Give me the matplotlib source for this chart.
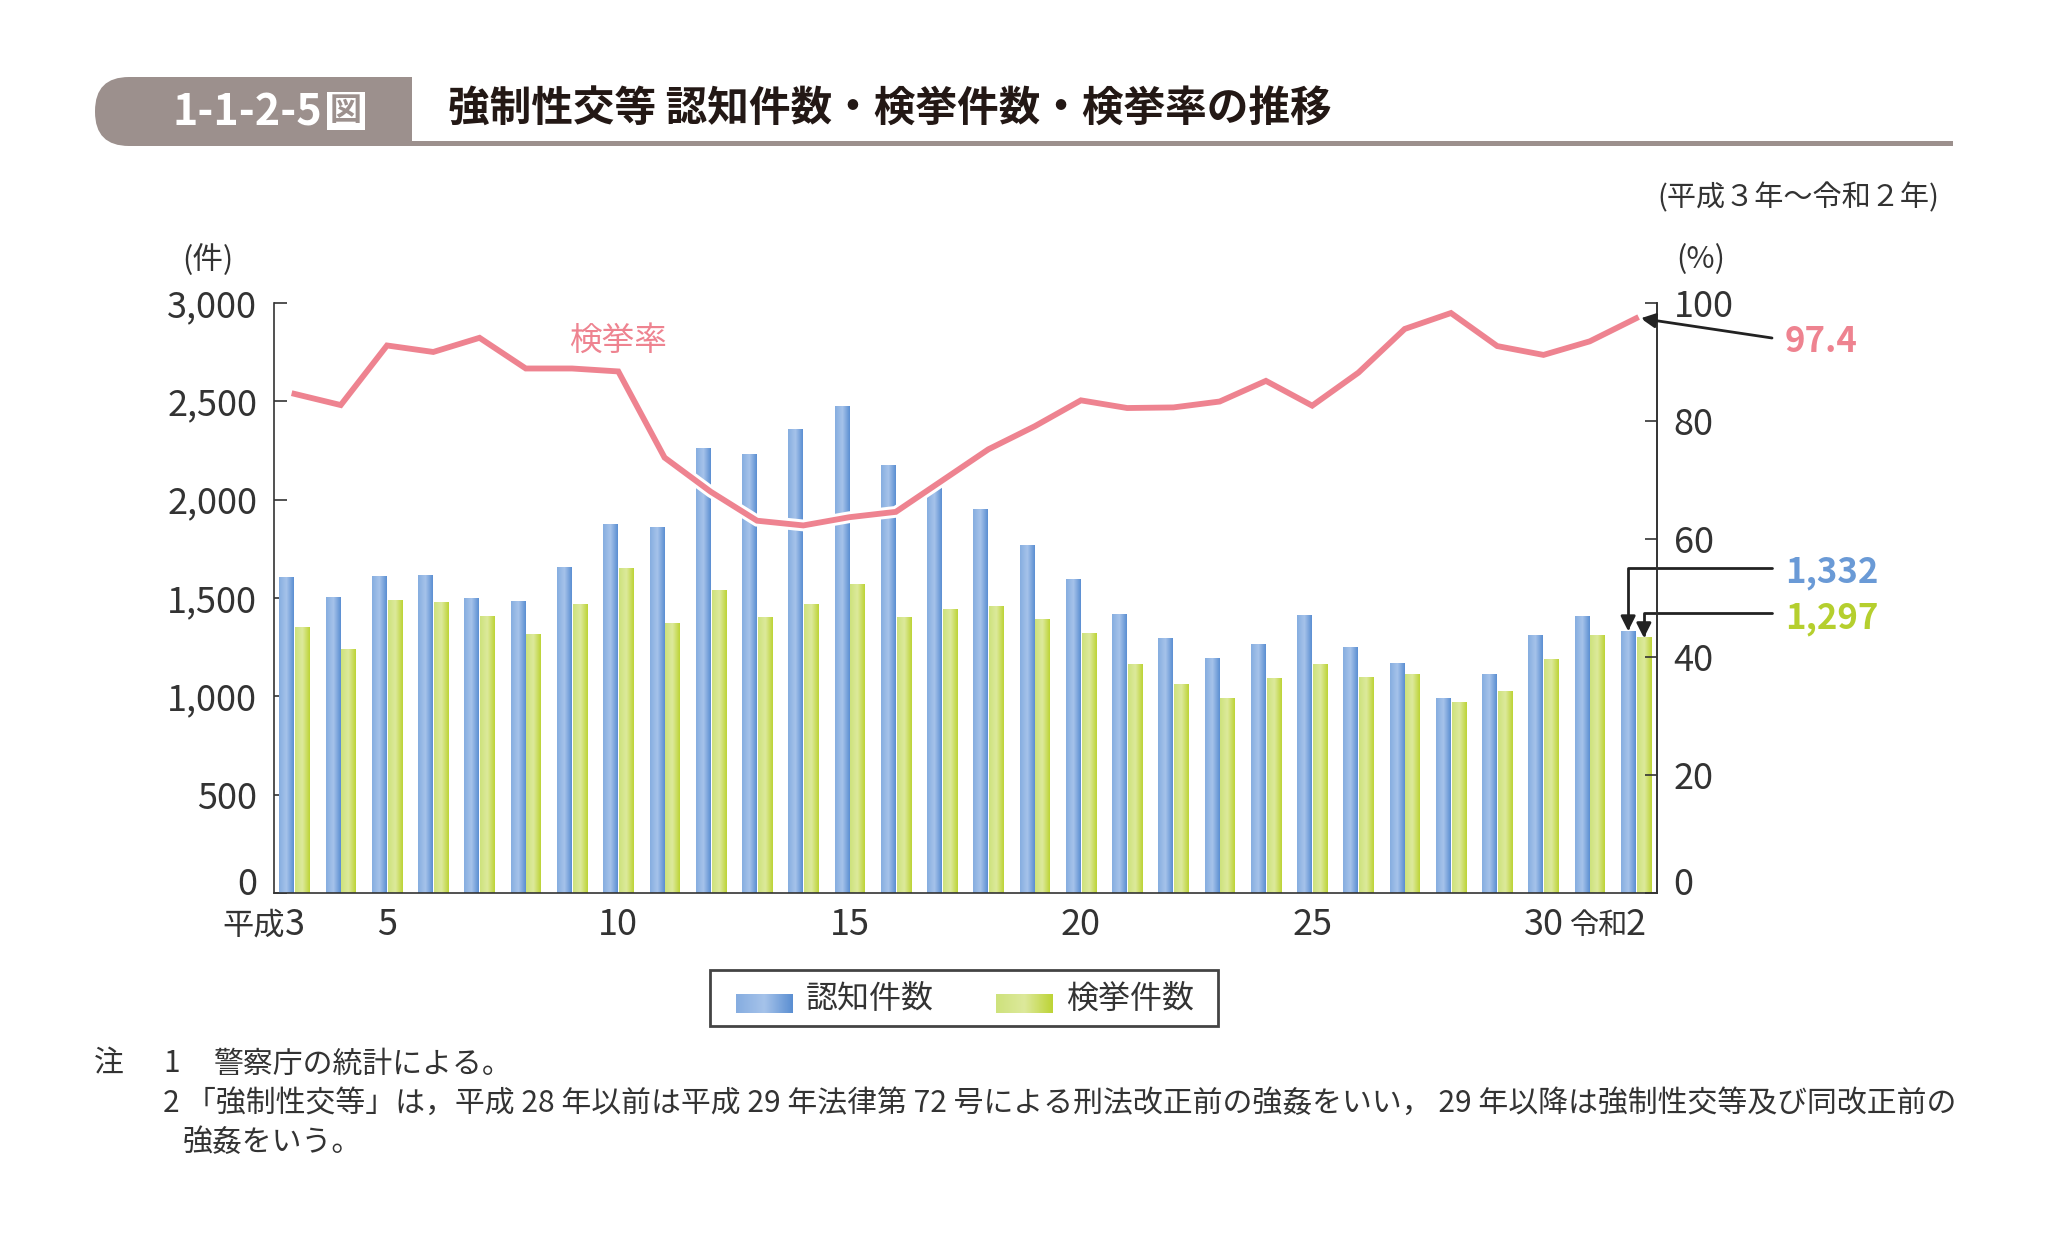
import numpy as np
import matplotlib
matplotlib.use('Agg')
import matplotlib.pyplot as plt
from matplotlib.colors import LinearSegmentedColormap
from matplotlib.patches import FancyBboxPatch, Rectangle
from matplotlib.transforms import ScaledTranslation
import matplotlib.patheffects as pe

plt.rcParams['font.family'] = ['Noto Sans CJK JP', 'DejaVu Sans']

# 平成3年～令和2年
years = list(range(30))
tick_pos = [0, 2, 7, 12, 17, 22, 27, 29]
tick_lab = ['3', '5', '10', '15', '20', '25', '30', '2']

ninchi = [1603, 1504, 1611, 1616, 1500, 1483, 1657, 1873, 1857, 2260,
          2228, 2357, 2472, 2176, 2076, 1948, 1766, 1592, 1417, 1293,
          1193, 1266, 1410, 1250, 1167, 989, 1109, 1307, 1405, 1332]
kenkyo = [1351, 1240, 1487, 1476, 1408, 1313, 1467, 1649, 1369, 1537,
          1399, 1465, 1567, 1399, 1440, 1456, 1390, 1322, 1160, 1058,
          990, 1092, 1160, 1097, 1110, 967, 1024, 1185, 1308, 1297]
rate = [84.6, 82.7, 92.8, 91.7, 94.1, 88.9, 88.9, 88.4, 73.8, 68.0,
        63.1, 62.3, 63.7, 64.6, 69.9, 75.2, 79.1, 83.5, 82.2, 82.3,
        83.3, 86.8, 82.6, 88.2, 95.6, 98.3, 92.7, 91.2, 93.5, 97.4]

BLUE = LinearSegmentedColormap.from_list('b', ['#86ade0', '#a6c3ea', '#5b8fd2'])
GREEN = LinearSegmentedColormap.from_list('g', ['#cee27c', '#dde99c', '#bdd436'])
PINK = '#ee8390'
GRAY = '#9c908d'
TXT = '#333333'

W, H = 2046, 1256
fig = plt.figure(figsize=(W / 100, H / 100), dpi=100)

# pixel overlay for decorations
fa = fig.add_axes([0, 0, 1, 1])
fa.set_xlim(0, W)
fa.set_ylim(H, 0)
fa.axis('off')

ax = fig.add_axes([274 / W, 1 - 893 / H, (1657 - 274) / W, (893 - 303) / H])
ax2 = ax.twinx()

grad = np.linspace(0, 1, 64).reshape(1, -1)


def grad_bars(a, x, h, w, cmap):
    bars = a.bar(x, h, w, color='none', edgecolor='none', zorder=2)
    for b in bars:
        x0 = b.get_x()
        a.imshow(grad, cmap=cmap, aspect='auto', interpolation='bilinear',
                 extent=(x0, x0 + b.get_width(), 0, b.get_height()), zorder=2)
    return bars


x = np.array(years)
bw = 0.31
grad_bars(ax, x - 0.17, ninchi, bw, BLUE)
grad_bars(ax, x + 0.17, kenkyo, bw, GREEN)

ax.set_xlim(-0.443, 29.454)
ax.set_ylim(0, 3000)
ax.set_yticks(range(0, 3001, 500))
ax.set_yticklabels([f'{v:,}' for v in range(0, 3001, 500)])
ax.set_xticks(tick_pos)
ax.set_xticklabels(tick_lab)
ax.tick_params(axis='y', direction='in', length=9, width=1.2, pad=12,
               labelsize=26, colors=TXT)
ax.tick_params(axis='x', length=0, pad=10, labelsize=26, colors=TXT)
ax.spines['top'].set_visible(False)
for s in ['left', 'bottom', 'right']:
    ax.spines[s].set_color('#333333')
    ax.spines[s].set_linewidth(1.2)

# era prefixes next to the first / last tick numbers
ax.annotate('平成', xy=(0, 0), xycoords=('data', 'axes fraction'),
            xytext=(-7, -23.5), textcoords='offset points', ha='right', va='center',
            fontsize=22.5, color=TXT)
ax.annotate('令和', xy=(29, 0), xycoords=('data', 'axes fraction'),
            xytext=(-6.5, -23.5), textcoords='offset points', ha='right', va='center',
            fontsize=21, color=TXT)

ax2.plot(x, rate, color=PINK, lw=4.2, solid_joinstyle='miter', zorder=5,
         path_effects=[pe.Stroke(linewidth=8.5, foreground='white'), pe.Normal()])
ax2.set_ylim(0, 100)
ax2.set_yticks(range(0, 101, 20))
ax2.tick_params(axis='y', direction='in', length=9, width=1.2, pad=12,
                labelsize=26, colors=TXT)
for s in ['top', 'left', 'bottom']:
    ax2.spines[s].set_visible(False)
ax2.spines['right'].set_color('#333333')
ax2.spines['right'].set_linewidth(1.2)

# lift the "0" labels off the baseline
lift = ScaledTranslation(0, 0.12, fig.dpi_scale_trans)
for lab in (ax.get_yticklabels()[0], ax2.get_yticklabels()[0]):
    lab.set_transform(lab.get_transform() + lift)

ax2.text(7, 93.6, '検挙率', color=PINK, fontsize=23.5, ha='center', va='center')

# callouts
arw = dict(arrowstyle='-|>', color='#222222', lw=2, mutation_scale=22,
           shrinkA=0, shrinkB=0)
ax2.annotate('', xy=(29.1, rate[-1]), xytext=(1772, H - 338),
             textcoords='figure pixels', arrowprops=arw)
ax.annotate('', xy=(29 - 0.17, ninchi[-1]), xytext=(1772, H - 568),
            textcoords='figure pixels',
            arrowprops=dict(arw, connectionstyle='angle,angleA=0,angleB=90,rad=0'))
ax.annotate('', xy=(29 + 0.17, kenkyo[-1]), xytext=(1772, H - 613),
            textcoords='figure pixels',
            arrowprops=dict(arw, connectionstyle='angle,angleA=0,angleB=90,rad=0'))
fa.text(1785, 341, f'{rate[-1]}', color=PINK, fontsize=25, fontweight='bold', va='center')
fa.text(1785, 573, f'{ninchi[-1]:,}', color='#6a9ad6', fontsize=25, fontweight='bold', va='center')
fa.text(1785, 618, f'{kenkyo[-1]:,}', color='#b5cf2e', fontsize=25, fontweight='bold', va='center')

# unit labels
fa.text(208, 260, '(件)', fontsize=22, color=TXT, ha='center', va='center')
fa.text(1701, 260, '(%)', fontsize=22, color=TXT, ha='center', va='center')
fa.text(1939, 198, '(平成３年～令和２年)', fontsize=21, color=TXT, ha='right', va='center')

# title banner
fa.add_patch(FancyBboxPatch((95, 77), 317, 69, boxstyle='round,pad=0,rounding_size=34',
                            fc=GRAY, ec='none'))
fa.add_patch(Rectangle((360, 77), 52, 69, fc=GRAY, ec='none'))
fa.add_patch(Rectangle((412, 141), 1953 - 412, 5, fc=GRAY, ec='none'))
fa.text(173, 112, '1-1-2-5', color='white', fontsize=31, fontweight='bold', va='center')
fa.text(346, 111, '図', color=GRAY, fontsize=23, fontweight='bold', ha='center', va='center',
        bbox=dict(boxstyle='square,pad=0.1', fc='white', ec='none'))
fa.text(448, 110, '強制性交等 認知件数・検挙件数・検挙率の推移', color='#231815',
        fontsize=30, fontweight='bold', va='center')

# legend
fa.add_patch(Rectangle((710, 970), 508, 56, fc='white', ec='#444444', lw=2))
fa.imshow(grad, cmap=BLUE, aspect='auto', extent=(736, 793, 1013, 994), zorder=3)
fa.imshow(grad, cmap=GREEN, aspect='auto', extent=(996, 1053, 1013, 994), zorder=3)
fa.text(806, 999, '認知件数', fontsize=23, color=TXT, va='center')
fa.text(1066, 999, '検挙件数', fontsize=23, color=TXT, va='center')
fa.set_xlim(0, W)
fa.set_ylim(H, 0)

# notes
nfs = 21.5
fa.text(94, 1064, '注', fontsize=nfs, color=TXT, va='center')
fa.text(163, 1064, '1', fontsize=nfs, color=TXT, va='center')
fa.text(213, 1064, '警察庁の統計による。', fontsize=nfs, color=TXT, va='center')
fa.text(163, 1103, '2', fontsize=nfs, color=TXT, va='center')
fa.text(186, 1103, '「強制性交等」は，平成 28 年以前は平成 29 年法律第 72 号による刑法改正前の強姦をいい，'
        ' 29 年以降は強制性交等及び同改正前の', fontsize=nfs, color=TXT, va='center')
fa.text(183, 1143, '強姦をいう。', fontsize=nfs, color=TXT, va='center')

fig.savefig('out.png', dpi=100)
